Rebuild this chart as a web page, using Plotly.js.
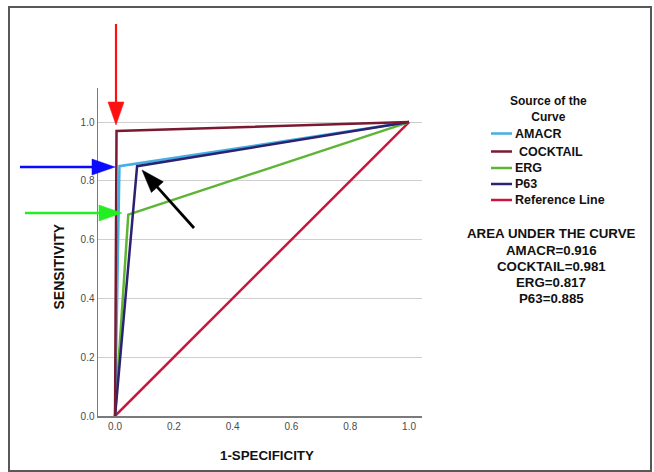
<!DOCTYPE html>
<html>
<head>
<meta charset="utf-8">
<script src="https://cdn.plot.ly/plotly-3.0.1.min.js"></script>
<style>html,body{margin:0;padding:0;background:#fff;}#chart{width:654px;height:472px;}</style>
</head>
<body>
<div id="chart"></div>
<script>
// ---- data ----
const seriesNames = ['AMACR', 'COCKTAIL', 'ERG', 'P63', 'Reference Line'];
const amacrX = [0, 0.015, 1];
const amacrY = [0, 0.85, 1];
const cocktailX = [0, 0.005, 1];
const cocktailY = [0, 0.97, 1];
const ergX = [0, 0.045, 1];
const ergY = [0, 0.685, 1];
const p63X = [0, 0.075, 1];
const p63Y = [0, 0.85, 1];
const refX = [0, 1];
const refY = [0, 1];
const tickVals = [0, 0.2, 0.4, 0.6, 0.8, 1.0];
const tickText = ['0.0', '0.2', '0.4', '0.6', '0.8', '1.0'];
const aucNames = ['AMACR', 'COCKTAIL', 'ERG', 'P63'];
const aucValues = [0.916, 0.981, 0.817, 0.885];
const legendTitle = ['Source of the', 'Curve'];
const aucTitle = 'AREA UNDER THE CURVE';
const xTitle = '1-SPECIFICITY';
const yTitle = 'SENSITIVITY';

// ---- styling ----
const colors = {
  'AMACR': '#45aee2',
  'COCKTAIL': '#7a1a30',
  'ERG': '#5cb533',
  'P63': '#2b2270',
  'Reference Line': '#c8163e'
};
const FONT = '"Liberation Sans", Arial, sans-serif';
const W = 654, H = 472;
const M = {l: 98, r: 232, t: 88, b: 56};
const PW = W - M.l - M.r, PH = H - M.t - M.b;
const px = p => (p - M.l) / PW;          // pixel x -> paper
const py = p => (H - M.b - p) / PH;      // pixel y -> paper

const lw = 2.5;
const traces = [
  {x: refX, y: refY, name: seriesNames[4]},
  {x: ergX, y: ergY, name: seriesNames[2]},
  {x: amacrX, y: amacrY, name: seriesNames[0]},
  {x: p63X, y: p63Y, name: seriesNames[3]},
  {x: cocktailX, y: cocktailY, name: seriesNames[1]}
].map(t => Object.assign(t, {
  type: 'scatter', mode: 'lines',
  line: {color: colors[t.name], width: lw},
  showlegend: false, hoverinfo: 'skip'
}));

const shapes = [];
const annotations = [];

// outer frame
shapes.push({type: 'rect', xref: 'paper', yref: 'paper',
  x0: px(9), x1: px(651), y0: py(7), y1: py(471),
  line: {color: '#585858', width: 2}, fillcolor: 'rgba(0,0,0,0)', layer: 'below'});

// custom legend
annotations.push({xref: 'paper', yref: 'paper', x: px(548), y: py(108.5), text: legendTitle.join('<br>'),
  showarrow: false, xanchor: 'center', yanchor: 'middle', align: 'center',
  font: {family: FONT, size: 12, color: '#111', weight: 'bold'}});
const legendRows = [133.5, 151.5, 168, 184, 200];
seriesNames.forEach((n, i) => {
  const yy = legendRows[i];
  shapes.push({type: 'line', xref: 'paper', yref: 'paper',
    x0: px(491), x1: px(512), y0: py(yy), y1: py(yy),
    line: {color: colors[n], width: 2.5}});
  annotations.push({xref: 'paper', yref: 'paper', x: px(n === 'COCKTAIL' ? 517 : 513), y: py(yy),
    text: n, showarrow: false, xanchor: 'left', yanchor: 'middle',
    font: {family: FONT, size: 12.5, color: '#111', weight: 'bold'}});
});

// AUC block
const aucLines = [aucTitle].concat(aucNames.map((n, i) => n + '=' + aucValues[i].toFixed(3)));
const aucRows = [234, 250, 266, 282, 298];
aucLines.forEach((t, i) => {
  annotations.push({xref: 'paper', yref: 'paper', x: px(551), y: py(aucRows[i]), text: t,
    showarrow: false, xanchor: 'center', yanchor: 'middle',
    font: {family: FONT, size: 13.3, color: '#111', weight: 'bold'}});
});

// axis titles
annotations.push({xref: 'paper', yref: 'paper', x: px(266.5), y: py(455.5), text: xTitle,
  showarrow: false, xanchor: 'center', yanchor: 'middle',
  font: {family: FONT, size: 13.3, color: '#111', weight: 'bold'}});
annotations.push({xref: 'paper', yref: 'paper', x: px(58.5), y: py(267), text: yTitle,
  showarrow: false, xanchor: 'center', yanchor: 'middle', textangle: -90,
  font: {family: FONT, size: 14, color: '#111', weight: 'bold'}});

// pointer arrows (pixel geometry)
const arrows = [
  {tail: [116, 24], tip: [116, 125], color: '#ff1010', w: 2.2},
  {tail: [20, 167], tip: [115, 167], color: '#0a0aff', w: 2.6},
  {tail: [25, 213], tip: [122, 213], color: '#22ee22', w: 2.6},
  {tail: [194, 228], tip: [142, 170], color: '#000000', w: 2.8}
];
const headLen = 23, headHalf = 8;
arrows.forEach(a => {
  const dx = a.tip[0] - a.tail[0], dy = a.tip[1] - a.tail[1];
  const L = Math.hypot(dx, dy), ux = dx / L, uy = dy / L;
  const bx = a.tip[0] - ux * headLen, by = a.tip[1] - uy * headLen;
  shapes.push({type: 'line', xref: 'paper', yref: 'paper',
    x0: px(a.tail[0]), y0: py(a.tail[1]), x1: px(bx + ux * 2), y1: py(by + uy * 2),
    line: {color: a.color, width: a.w}});
  const p1 = [bx - uy * headHalf, by + ux * headHalf];
  const p2 = [bx + uy * headHalf, by - ux * headHalf];
  shapes.push({type: 'path', xref: 'paper', yref: 'paper',
    path: `M${px(a.tip[0])},${py(a.tip[1])} L${px(p1[0])},${py(p1[1])} L${px(p2[0])},${py(p2[1])} Z`,
    fillcolor: a.color, line: {color: a.color, width: 0.5}});
});

const layout = {
  width: W, height: H,
  margin: M,
  paper_bgcolor: '#ffffff', plot_bgcolor: '#ffffff',
  showlegend: false,
  font: {family: FONT},
  xaxis: {
    range: [-0.058, 1.044], tickvals: tickVals, ticktext: tickText,
    showgrid: false, zeroline: false, showline: true, linecolor: '#7a7a7a', linewidth: 1.5,
    ticks: '', tickfont: {family: FONT, size: 10, color: '#4a4a4a'}, fixedrange: true
  },
  yaxis: {
    range: [0, 1.116], tickvals: tickVals, ticktext: tickText,
    showgrid: true, gridcolor: '#cfcfcf', gridwidth: 1, zeroline: false,
    showline: true, linecolor: '#7a7a7a', linewidth: 1.5,
    ticks: '', tickfont: {family: FONT, size: 10, color: '#4a4a4a'}, fixedrange: true
  },
  shapes: shapes,
  annotations: annotations
};

Plotly.newPlot('chart', traces, layout, {displayModeBar: false, staticPlot: true});
</script>
</body>
</html>
